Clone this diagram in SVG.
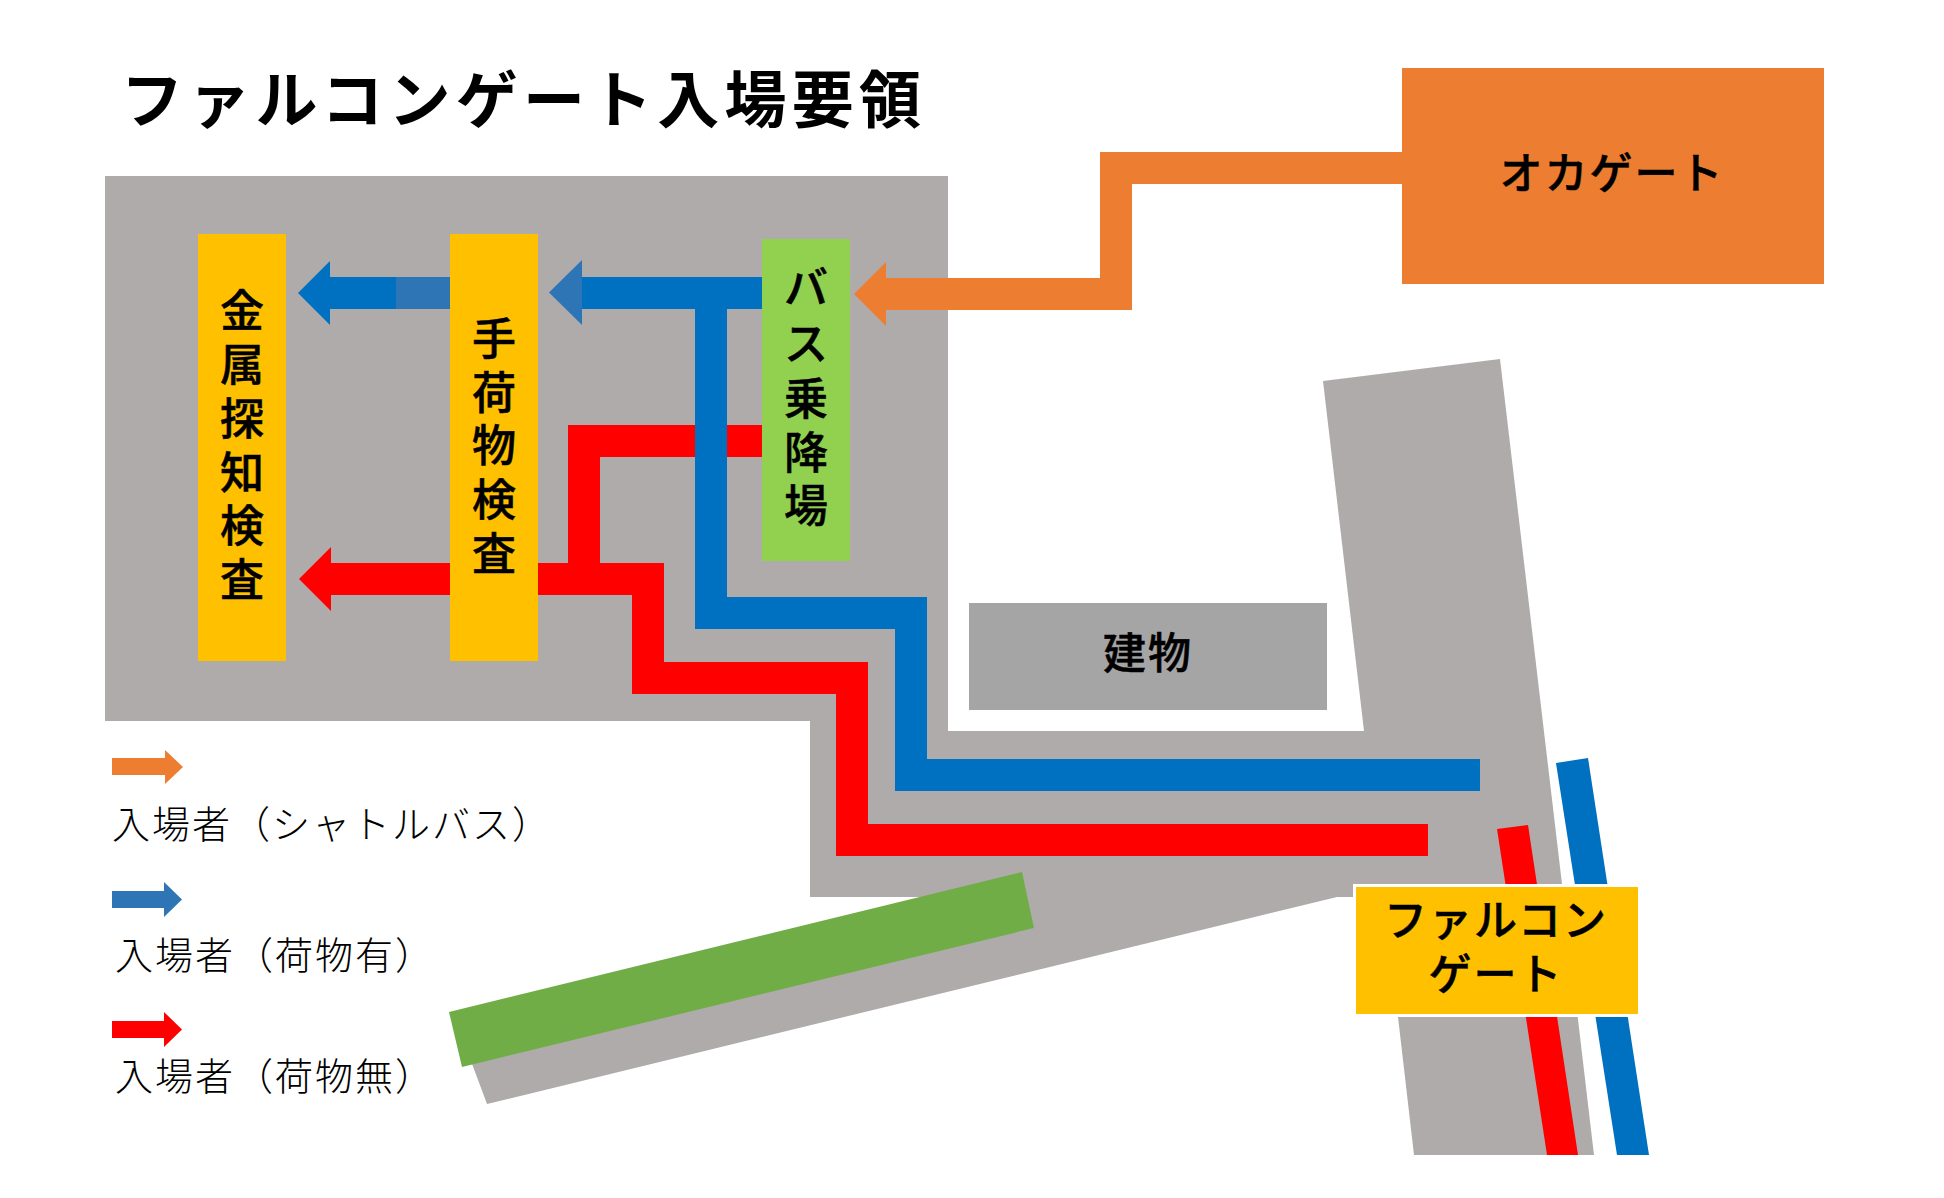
<svg xmlns="http://www.w3.org/2000/svg" width="1944" height="1198" viewBox="0 0 1944 1198">
<style>
text{font-family:"Noto Sans CJK JP","Noto Sans CJK SC",sans-serif;fill:#000}
.b{font-weight:500;text-anchor:middle;stroke:#000;stroke-width:.5px}
.v{font-size:44px}
.g{font-size:43px;letter-spacing:2px}
.l{font-size:38px;font-weight:300;letter-spacing:2px}
.y{fill:#FFC000}
.road{fill:#AFABAB}
.bl{fill:none;stroke:#0070C0;stroke-width:32}
.rd{fill:none;stroke:#FF0000;stroke-width:32}
</style>
<rect width="1944" height="1198" fill="#fff"/>
<text id="title" x="121" y="123" font-size="62" font-weight="700" letter-spacing="5.200">ファルコンゲート入場要領</text>
<g id="roads">
<path class="road" d="M105 176H948V731H1364L1323 381L1500 359L1594 1155H1414L1398 1017H1353V897H1337L487 1104L465 1045L600 1010L940 897H810V721H105Z"/>
<path fill="#70AD47" d="M449 1012L1022 872L1034 928L462 1067Z"/>
</g>
<g id="building"><rect x="969" y="603" width="358" height="107" fill="#A5A5A5"/><text class="b g" x="1148" y="669">建物</text></g>
<g id="connectors">
<path class="rd" d="M762 441H584V579"/>
<path class="rd" d="M538 579H648V678H852V840H1428"/>
<path class="rd" d="M450 579H331"/>
<path fill="#FF0000" d="M299 579L331 547V611Z"/>
<path class="bl" d="M711 293V613H911V775H1480"/>
<path class="bl" d="M762 293H582"/>
<path fill="#2E75B6" d="M549 292.500L582 260V325Z"/>
<path class="bl" d="M396 293H330"/>
<path fill="#0070C0" d="M298 293L330 261V325Z"/>
<path d="M396 293H450" fill="none" stroke="#2E75B6" stroke-width="32"/>
<path fill="#ED7D31" d="M854 294L886 262V278H1100V152H1402V184H1132V310H886V326Z"/>
<path fill="#FF0000" d="M1497 829L1528 825L1578 1155H1547Z"/>
<path fill="#0070C0" d="M1556 763L1588 758L1649 1155H1617Z"/>
</g>
<g id="oka-gate"><rect x="1402" y="68" width="422" height="216" fill="#ED7D31"/><text class="b g" x="1612" y="189">オカゲート</text></g>
<g id="metal-check"><rect class="y" x="198" y="234" width="88" height="427"/>
<text class="b v" x="242 242 242 242 242 242" y="327 381 435 489 542 596">金属探知検査</text></g>
<g id="bag-check"><rect class="y" x="450" y="234" width="88" height="427"/>
<text class="b v" x="494 494 494 494 494" y="355 409 462 516 570">手荷物検査</text></g>
<g id="bus-stop"><rect x="762" y="239" width="88" height="322" fill="#92D050"/>
<text class="b v" x="806 806 806 806 806" y="304 360 415 469 522">バス乗降場</text></g>
<g id="falcon-gate"><rect x="1353" y="884" width="288" height="133" fill="#fff"/><rect class="y" x="1356" y="887" width="282" height="127"/>
<text class="b g"><tspan x="1496" y="936">ファルコン</tspan><tspan x="1496" y="990">ゲート</tspan></text></g>
<g id="legend">
<path fill="#ED7D31" d="M112 758H165V750L183 767L165 784V775H112Z"/>
<text class="l" x="112" y="838">入場者（シャトルバス）</text>
<path fill="#2E75B6" d="M112 891H164V882L182 899.500L164 917V908H112Z"/>
<text class="l" x="115" y="969">入場者（荷物有）</text>
<path fill="#FF0000" d="M112 1021H164V1012L182 1029.500L164 1047V1038H112Z"/>
<text class="l" x="115" y="1090">入場者（荷物無）</text>
</g>
</svg>
